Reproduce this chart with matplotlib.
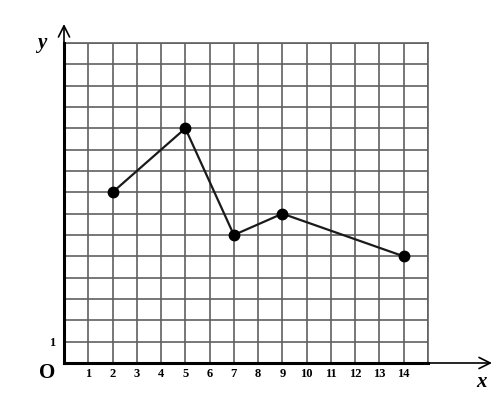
import matplotlib
matplotlib.use("Agg")
import matplotlib.pyplot as plt

# Data
x_vals = [2, 5, 7, 9, 14]
y_vals = [8, 11, 6, 7, 5]
x_tick_labels = [str(i) for i in range(1, 15)]
y_tick_labels = ["1"]
grid_max = 15

W, H = 499, 399
fig = plt.figure(figsize=(W / 100, H / 100), dpi=100)
left_px, right_px, bottom_px, top_px = 64, 428, 363, 43
ax = fig.add_axes([left_px / W, 1 - bottom_px / H,
                   (right_px - left_px) / W, (bottom_px - top_px) / H])
ax.set_xlim(0, grid_max)
ax.set_ylim(0, grid_max)

# grid
ax.set_xticks(range(0, grid_max + 1))
ax.set_yticks(range(0, grid_max + 1))
ax.grid(True, color="#606060", linewidth=1.2)
ax.tick_params(length=0, labelbottom=False, labelleft=False)
for s in ["top", "right"]:
    ax.spines[s].set_color("#606060")
    ax.spines[s].set_linewidth(1.2)
for s in ["left", "bottom"]:
    ax.spines[s].set_color("black")
    ax.spines[s].set_linewidth(2.2)
    ax.spines[s].set_zorder(5)

# data line
ax.plot(x_vals, y_vals, color="#1a1a1a", linewidth=1.6, marker="o",
        markersize=7.5, markerfacecolor="black", markeredgecolor="black",
        zorder=6, clip_on=False)

# arrows
sx = grid_max / (right_px - left_px)
sy = grid_max / (bottom_px - top_px)
x_end = (492 - left_px) * sx
y_end = (bottom_px - 24) * sy
ax.annotate("", xy=(x_end, 0), xytext=(grid_max, 0),
            arrowprops=dict(arrowstyle="->,head_length=0.8,head_width=0.4",
                            color="black", lw=1.2, shrinkA=0, shrinkB=0),
            annotation_clip=False)
ax.annotate("", xy=(0, y_end), xytext=(0, grid_max),
            arrowprops=dict(arrowstyle="->,head_length=0.8,head_width=0.4",
                            color="black", lw=1.2, shrinkA=0, shrinkB=0),
            annotation_clip=False)

font = dict(family="Liberation Serif", fontweight="bold")
for i, lab in enumerate(x_tick_labels, start=1):
    ax.text(i, -0.52, lab, ha="center", va="center", fontsize=9, **font)
for i, lab in enumerate(y_tick_labels, start=1):
    ax.text(-0.5, i - 0.08, lab, ha="center", va="center", fontsize=9, **font)
ax.text(-0.7, -0.45, "O", ha="center", va="center", fontsize=15, **font)
ax.text((482 - left_px) * sx, -(382 - bottom_px) * sy, "x", ha="center",
        va="center", fontsize=15, fontstyle="italic", **font)
ax.text(-(64 - 42) * sx, (bottom_px - 43) * sy, "y", ha="center",
        va="center", fontsize=15, fontstyle="italic", **font)

fig.savefig("out.png", dpi=100, facecolor="white")
